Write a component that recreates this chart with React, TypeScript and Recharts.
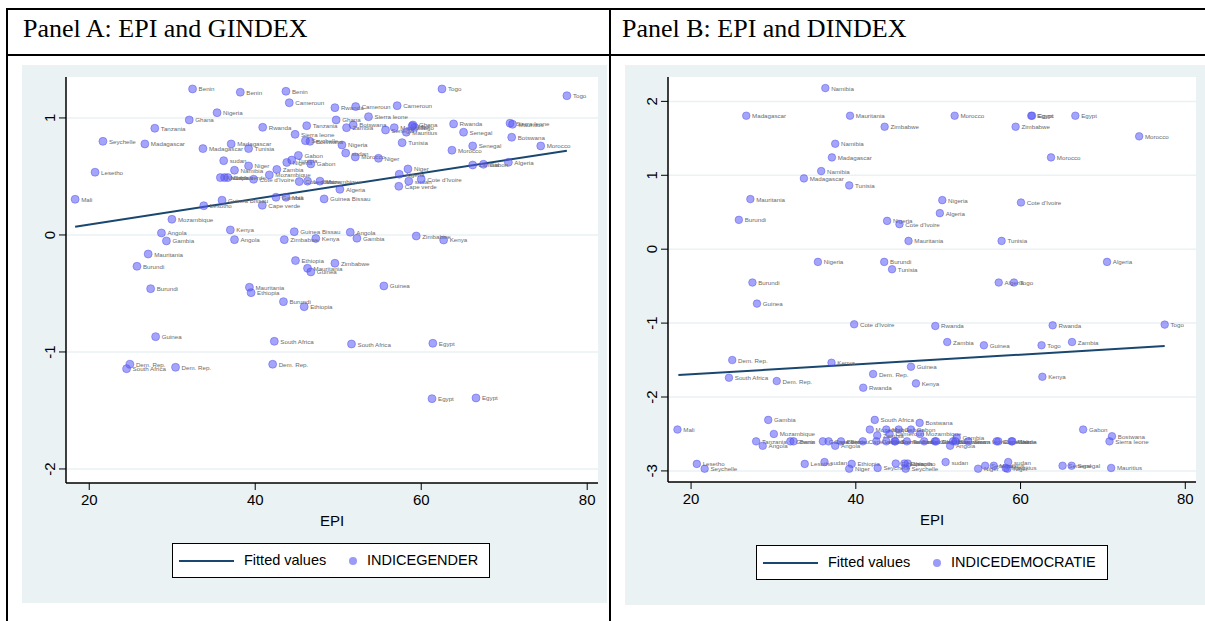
import React from "react";
import { CartesianGrid, ComposedChart, Legend, Scatter, XAxis, YAxis } from "recharts";

type Row = [string, number, number];

const BG = "#eaf2f3";
const NAVY = "#1a476f";
const SANS = "'Liberation Sans', Arial, sans-serif";
const SERIF = "'Liberation Serif', 'Times New Roman', serif";

const epiTicks = [20, 40, 60, 80];
const epiDomain = [17.2, 81.3];
const genderTicks = [-2, -1, 0, 1];
const genderDomain = [-2.12, 1.35];
const democTicks = [-3, -2, -1, 0, 1, 2];
const democDomain = [-3.15, 2.33];

// [country, EPI, index]
const genderRows: Row[] = [
  ["Benin", 32.45, 1.248],
  ["Benin", 38.2, 1.22],
  ["Benin", 43.7, 1.228],
  ["Cameroun", 44.1, 1.13],
  ["Cameroun", 52.1, 1.097],
  ["Cameroun", 57.1, 1.105],
  ["Togo", 62.5, 1.248],
  ["Togo", 77.55, 1.19],
  ["Togo", 59.2, 0.92],
  ["Rwanda", 49.6, 1.088],
  ["Rwanda", 40.9, 0.92],
  ["Rwanda", 63.9, 0.949],
  ["Nigeria", 35.4, 1.045],
  ["Nigeria", 50.45, 0.769],
  ["Nigeria", 43.8, 0.62],
  ["Ghana", 32.05, 0.983],
  ["Ghana", 49.75, 0.983],
  ["Ghana", 59.0, 0.94],
  ["Sierra leone", 53.65, 1.011],
  ["Sierra leone", 44.8, 0.86],
  ["Sierra leone", 70.7, 0.955],
  ["Tanzania", 27.9, 0.912],
  ["Tanzania", 46.2, 0.934],
  ["Botswana", 51.8, 0.94],
  ["Botswana", 70.9, 0.835],
  ["Botswana", 46.6, 0.8],
  ["Zambia", 51.0, 0.917],
  ["Zambia", 42.6, 0.56],
  ["Zambia", 66.2, 0.598],
  ["Seychelle", 21.65, 0.8],
  ["Seychelle", 46.05, 0.806],
  ["Madagascar", 26.7, 0.778],
  ["Madagascar", 33.7, 0.738],
  ["Madagascar", 37.1, 0.778],
  ["Tunisia", 39.2, 0.738],
  ["Tunisia", 57.7, 0.789],
  ["Tunisia", 44.4, 0.64],
  ["Senegal", 55.7, 0.897],
  ["Senegal", 65.1, 0.878],
  ["Senegal", 66.2, 0.761],
  ["Mauritius", 56.75, 0.917],
  ["Mauritius", 58.2, 0.878],
  ["Mauritius", 71.0, 0.946],
  ["Mali", 18.3, 0.305],
  ["Mali", 43.7, 0.322],
  ["Mali", 58.9, 0.93],
  ["Morocco", 74.4, 0.761],
  ["Morocco", 63.7, 0.724],
  ["Morocco", 52.05, 0.667],
  ["Lesetho", 20.7, 0.536],
  ["Lesotho", 33.8, 0.25],
  ["Lesotho", 46.3, 0.46],
  ["sudan", 36.2, 0.635],
  ["sudan", 50.9, 0.7],
  ["sudan", 58.5, 0.46],
  ["Algeria", 50.2, 0.39],
  ["Algeria", 70.5, 0.621],
  ["Algeria", 57.35, 0.519],
  ["Niger", 54.85, 0.655],
  ["Niger", 58.4, 0.564],
  ["Niger", 39.2, 0.59],
  ["Namibia", 37.5, 0.553],
  ["Namibia", 36.3, 0.49],
  ["Namibia", 35.8, 0.49],
  ["Gabon", 46.7, 0.607],
  ["Gabon", 67.5, 0.604],
  ["Gabon", 45.2, 0.68],
  ["Cote d'Ivoire", 60.0, 0.476],
  ["Cote d'Ivoire", 39.8, 0.476],
  ["Cote d'Ivoire", 45.3, 0.456],
  ["Mozambique", 29.96, 0.134],
  ["Mozambique", 41.7, 0.513],
  ["Mozambique", 47.8, 0.46],
  ["Cape verde", 40.85, 0.254],
  ["Cape verde", 57.3, 0.416],
  ["Cape verde", 36.7, 0.49],
  ["Guinea Bissau", 36.0, 0.297],
  ["Guinea Bissau", 44.7, 0.028],
  ["Guinea Bissau", 48.3, 0.308],
  ["Gambia", 29.3, -0.051],
  ["Gambia", 52.25, -0.028],
  ["Gambia", 42.5, 0.322],
  ["Angola", 28.7, 0.017],
  ["Angola", 37.5, -0.04],
  ["Angola", 51.45, 0.023],
  ["Kenya", 37.0, 0.043],
  ["Kenya", 47.3, -0.03],
  ["Kenya", 62.7, -0.043],
  ["Zimbabwe", 43.5, -0.04],
  ["Zimbabwe", 59.4, -0.009],
  ["Zimbabwe", 49.6, -0.242],
  ["Mauritania", 27.1, -0.163],
  ["Mauritania", 39.3, -0.447],
  ["Mauritania", 46.3, -0.285],
  ["Burundi", 25.75, -0.268],
  ["Burundi", 27.4, -0.459],
  ["Burundi", 43.4, -0.57],
  ["Ethiopia", 39.5, -0.493],
  ["Ethiopia", 44.85, -0.219],
  ["Ethiopia", 45.9, -0.613],
  ["Guinea", 28.0, -0.869],
  ["Guinea", 46.7, -0.316],
  ["Guinea", 55.5, -0.436],
  ["South Africa", 42.3, -0.909],
  ["South Africa", 51.6, -0.932],
  ["South Africa", 24.5, -1.143],
  ["Dem. Rep.", 24.9, -1.105],
  ["Dem. Rep.", 30.4, -1.131],
  ["Dem. Rep.", 42.1, -1.105],
  ["Egypt", 61.4, -0.926],
  ["Egypt", 61.3, -1.399],
  ["Egypt", 66.6, -1.393],
];

const democRows: Row[] = [
  ["Namibia", 36.3, 2.18],
  ["Madagascar", 26.7, 1.806],
  ["Mauritania", 39.3, 1.806],
  ["Morocco", 52.0, 1.806],
  ["Egypt", 61.3, 1.806],
  ["Egypt", 61.4, 1.806],
  ["Egypt", 66.65, 1.806],
  ["Zimbabwe", 43.5, 1.657],
  ["Zimbabwe", 59.4, 1.657],
  ["Morocco", 74.4, 1.527],
  ["Namibia", 37.5, 1.427],
  ["Madagascar", 37.1, 1.242],
  ["Morocco", 63.7, 1.242],
  ["Namibia", 35.8, 1.057],
  ["Madagascar", 33.7, 0.958],
  ["Tunisia", 39.2, 0.863],
  ["Mauritania", 27.2, 0.678],
  ["Nigeria", 50.5, 0.664],
  ["Cote d'Ivoire", 60.05, 0.632],
  ["Algeria", 50.2, 0.488],
  ["Burundi", 25.8, 0.397],
  ["Nigeria", 43.8, 0.383],
  ["Cote d'Ivoire", 45.3, 0.339],
  ["Mauritania", 46.4, 0.112],
  ["Tunisia", 57.7, 0.112],
  ["Nigeria", 35.4, -0.172],
  ["Burundi", 43.45, -0.172],
  ["Algeria", 70.5, -0.172],
  ["Tunisia", 44.4, -0.271],
  ["Burundi", 27.45, -0.451],
  ["Algeria", 57.35, -0.451],
  ["Togo", 59.2, -0.451],
  ["Guinea", 28.0, -0.736],
  ["Cote d'Ivoire", 39.8, -1.016],
  ["Rwanda", 49.65, -1.039],
  ["Rwanda", 63.9, -1.03],
  ["Togo", 77.5, -1.02],
  ["Zambia", 51.1, -1.256],
  ["Guinea", 55.55, -1.3],
  ["Togo", 62.55, -1.3],
  ["Zambia", 66.25, -1.256],
  ["Dem. Rep.", 25.0, -1.5],
  ["Kenya", 37.05, -1.536],
  ["Guinea", 46.7, -1.59],
  ["Dem. Rep.", 42.1, -1.689],
  ["Kenya", 62.65, -1.726],
  ["South Africa", 24.6, -1.739],
  ["Dem. Rep.", 30.4, -1.784],
  ["Kenya", 47.3, -1.816],
  ["Rwanda", 40.9, -1.874],
  ["Gambia", 29.37, -2.31],
  ["South Africa", 42.3, -2.31],
  ["Bostwana", 47.75, -2.35],
  ["Mali", 18.35, -2.44],
  ["Mozambique", 41.7, -2.44],
  ["Mali", 43.7, -2.44],
  ["Gabon", 45.2, -2.44],
  ["Gabon", 46.7, -2.44],
  ["Gabon", 67.6, -2.44],
  ["Mozambique", 30.05, -2.5],
  ["Cameroun", 44.1, -2.5],
  ["Zambia", 42.6, -2.52],
  ["Mozambique", 47.8, -2.5],
  ["Gambia", 52.25, -2.55],
  ["Bostwana", 71.1, -2.53],
  ["Tanzania", 27.9, -2.6],
  ["Ghana", 32.05, -2.6],
  ["Benin", 32.45, -2.6],
  ["Guinea Bissau", 36.0, -2.6],
  ["Cape verde", 36.7, -2.6],
  ["Benin", 38.2, -2.6],
  ["Cape verde", 40.85, -2.6],
  ["Gambia", 42.5, -2.6],
  ["Benin", 43.7, -2.6],
  ["Guinea Bissau", 44.7, -2.6],
  ["Sierra leone", 44.8, -2.6],
  ["Tanzania", 46.2, -2.6],
  ["Guinea Bissau", 48.3, -2.6],
  ["Zimbabwe", 49.6, -2.6],
  ["Ghana", 49.75, -2.6],
  ["Botswana", 51.8, -2.6],
  ["Cameroun", 52.1, -2.6],
  ["Sierra leone", 53.65, -2.6],
  ["Cameroun", 57.1, -2.6],
  ["Cape verde", 57.3, -2.6],
  ["Mali", 58.9, -2.6],
  ["Ghana", 59.0, -2.6],
  ["Sierra leone", 70.8, -2.6],
  ["Angola", 28.7, -2.66],
  ["Angola", 37.5, -2.66],
  ["Angola", 51.45, -2.66],
  ["Lesetho", 20.7, -2.905],
  ["Seychelle", 21.65, -2.97],
  ["Lesotho", 33.8, -2.905],
  ["sudan", 36.2, -2.88],
  ["Ethiopia", 39.5, -2.905],
  ["Niger", 39.2, -2.97],
  ["Seychelle", 42.65, -2.96],
  ["Ethiopia", 44.85, -2.9],
  ["Lesotho", 46.3, -2.9],
  ["Seychelle", 46.05, -2.97],
  ["Ethiopia", 45.9, -2.9],
  ["sudan", 50.9, -2.88],
  ["Niger", 54.85, -2.97],
  ["Senegal", 55.7, -2.93],
  ["Mauritius", 56.75, -2.93],
  ["sudan", 58.5, -2.88],
  ["Niger", 58.4, -2.97],
  ["Mauritius", 58.2, -2.96],
  ["Senegal", 65.1, -2.93],
  ["Senegal", 66.2, -2.93],
  ["Mauritius", 71.0, -2.96],
];

// fitted line end points
const genderFit: Row[] = [
  ["", 18.3, 0.071],
  ["", 77.55, 0.72],
];
const democFit: Row[] = [
  ["", 18.46, -1.703],
  ["", 77.5, -1.31],
];

const toPoints = (rows: Row[]) => rows.map(([name, epi, v]) => ({ name, epi, v }));

const makeMarker = (r: number) => (props: any) => {
  const { cx, cy, payload } = props;
  if (cx == null || cy == null) return <g />;
  return (
    <g>
      <circle cx={cx} cy={cy} r={r} fill="#5a5af5" fillOpacity={0.55} stroke="#4a4ae8" strokeOpacity={0.55} strokeWidth={0.8} />
      <text x={cx + r + 2} y={cy} dominantBaseline="central" fontSize={6.2} fill="#6a6a6a" fontFamily={SANS}>
        {payload.name}
      </text>
    </g>
  );
};

const YTick = (props: any) => {
  const { x, y, payload } = props;
  return (
    <text
      x={0}
      y={0}
      transform={`translate(${x - 8},${y}) rotate(-90)`}
      textAnchor="middle"
      dominantBaseline="central"
      fontSize={15}
      fill="#000"
      fontFamily={SANS}
    >
      {payload.value}
    </text>
  );
};

function LegendBox({ label, width }: { label: string; width: number }) {
  return (
    <div
      style={{
        position: "relative",
        width,
        height: 35,
        boxSizing: "border-box",
        border: "1px solid #000",
        background: "#fff",
        fontFamily: SANS,
        fontSize: 14.5,
        color: "#000",
      }}
    >
      <div style={{ position: "absolute", left: 6, top: 16, width: 55, height: 2, background: NAVY }} />
      <span style={{ position: "absolute", left: 71, top: 8, whiteSpace: "nowrap" }}>Fitted values</span>
      <div
        style={{
          position: "absolute",
          left: 176,
          top: 13,
          width: 8,
          height: 8,
          borderRadius: 4,
          background: "#9a9af7",
        }}
      />
      <span style={{ position: "absolute", left: 194, top: 8, whiteSpace: "nowrap" }}>{label}</span>
    </div>
  );
}

type PanelProps = {
  left: number;
  width: number;
  height: number;
  yAxisWidth: number;
  xAxisHeight: number;
  yDomain: number[];
  yTicks: number[];
  rows: Row[];
  fit: Row[];
  name: string;
  legendLeft: number;
  legendTop: number;
  legendWidth: number;
  r: number;
};

function Panel(p: PanelProps) {
  return (
    <div style={{ position: "absolute", left: p.left, top: 65, width: p.width, height: p.height, background: BG }}>
      <ComposedChart width={p.width} height={p.height} margin={{ top: 12, right: 9, bottom: 0, left: 0 }}>
        <CartesianGrid vertical={false} horizontalValues={p.yTicks} fill="#fff" stroke={BG} strokeWidth={1.5} />
        <XAxis
          type="number"
          dataKey="epi"
          domain={epiDomain}
          ticks={epiTicks}
          allowDataOverflow
          height={p.xAxisHeight}
          tickSize={7}
          tickMargin={4}
          axisLine={{ stroke: "#000", strokeWidth: 1.5 }}
          tickLine={{ stroke: "#000", strokeWidth: 1 }}
          tick={{ fontSize: 15, fill: "#000", fontFamily: SANS }}
          label={{ value: "EPI", position: "insideTop", offset: 32, fontSize: 15, fill: "#000", fontFamily: SANS }}
        />
        <YAxis
          type="number"
          dataKey="v"
          domain={p.yDomain}
          ticks={p.yTicks}
          allowDataOverflow
          width={p.yAxisWidth}
          tickSize={7}
          axisLine={{ stroke: "#000", strokeWidth: 1.5 }}
          tickLine={{ stroke: "#000", strokeWidth: 1 }}
          tick={<YTick />}
        />
        <Scatter
          name="Fitted values"
          data={toPoints(p.fit)}
          line={{ stroke: NAVY, strokeWidth: 2 }}
          shape={() => <g />}
          isAnimationActive={false}
          legendType="line"
        />
        <Scatter name={p.name} data={toPoints(p.rows)} shape={makeMarker(p.r)} isAnimationActive={false} />
        <Legend
          verticalAlign="middle"
          layout="horizontal"
          align="center"
          wrapperStyle={{ position: "absolute", left: p.legendLeft, top: p.legendTop, width: p.legendWidth }}
          content={() => <LegendBox label={p.name} width={p.legendWidth} />}
        />
      </ComposedChart>
    </div>
  );
}

const line = (style: React.CSSProperties) => (
  <div style={{ position: "absolute", background: "#000", ...style }} />
);

export default function App() {
  return (
    <div style={{ position: "relative", width: 1205, height: 621, background: "#fff", overflow: "hidden" }}>
      <style>{"body{margin:0}"}</style>
      {line({ left: 6, top: 8, width: 1199, height: 2 })}
      {line({ left: 6, top: 54, width: 1199, height: 2 })}
      {line({ left: 6, top: 8, width: 2, height: 613 })}
      {line({ left: 609, top: 8, width: 2, height: 613 })}
      <div style={{ position: "absolute", left: 23, top: 14, fontFamily: SERIF, fontSize: 26, whiteSpace: "nowrap" }}>
        Panel A: EPI and GINDEX
      </div>
      <div style={{ position: "absolute", left: 622, top: 14, fontFamily: SERIF, fontSize: 26, whiteSpace: "nowrap" }}>
        Panel B: EPI and DINDEX
      </div>
      <Panel
        left={22}
        width={585}
        height={538}
        yAxisWidth={44}
        xAxisHeight={120}
        yDomain={genderDomain}
        yTicks={genderTicks}
        rows={genderRows}
        fit={genderFit}
        name="INDICEGENDER"
        legendLeft={150}
        legendTop={478}
        legendWidth={318}
        r={4}
      />
      <Panel
        left={625}
        width={580}
        height={540}
        yAxisWidth={43}
        xAxisHeight={123}
        yDomain={democDomain}
        yTicks={democTicks}
        rows={democRows}
        fit={democFit}
        name="INDICEDEMOCRATIE"
        legendLeft={131}
        legendTop={480}
        legendWidth={352}
        r={3.8}
      />
    </div>
  );
}
